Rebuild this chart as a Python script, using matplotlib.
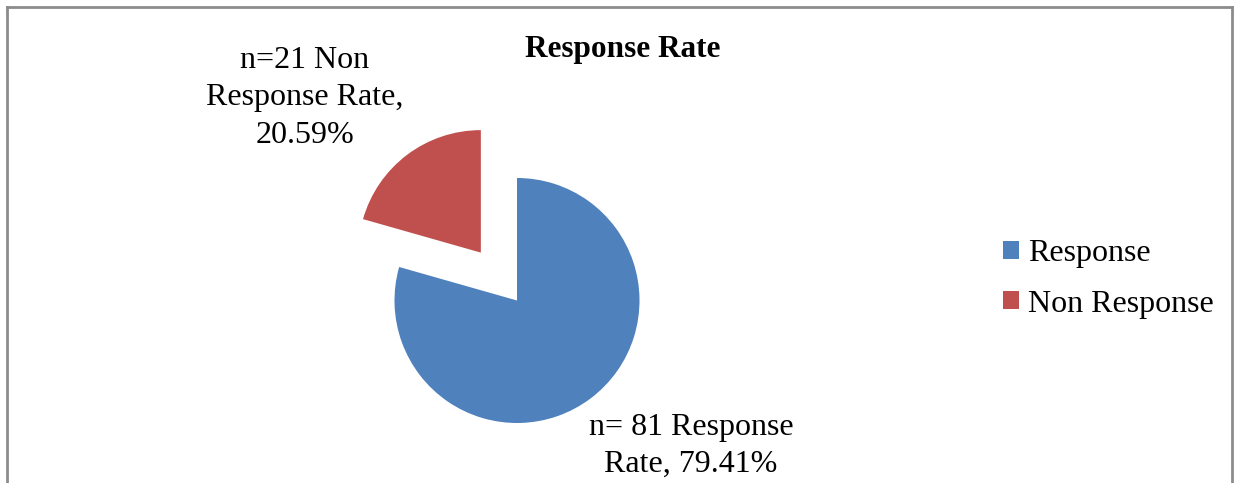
import matplotlib.pyplot as plt
from matplotlib.lines import Line2D

# data
categories = ['Response', 'Non Response']
shares = [79.41, 20.59]
counts = [81, 21]
colors = ['#4F81BD', '#C0504D']

plt.rcParams['font.family'] = ['Liberation Serif', 'DejaVu Serif']

W, H = 1234, 483
fig = plt.figure(figsize=(W / 100, H / 100), dpi=100)
ax = fig.add_axes([0, 0, 1, 1])

# pie in pixel-like data coords (y up); explode is in data units here
cx, cy, r = 517, H - 300.5, 122.5
wedges, _ = ax.pie(shares, colors=colors, startangle=90, counterclock=False,
                   explode=[0, 60], center=(cx, cy), radius=r,
                   wedgeprops=dict(linewidth=0))
ax.set_xlim(0, W)
ax.set_ylim(0, H)
ax.set_aspect('auto')
ax.axis('off')

ax.text(623, H - 50, 'Response Rate', ha='center', va='center',
        fontsize=22.5, fontweight='bold')

ax.text(305, H - 98, 'n=%d Non\nResponse Rate,\n%.2f%%' % (counts[1], shares[1]),
        ha='center', va='center', fontsize=23, linespacing=1.39)
ax.text(691, H - 446, 'n= %d Response\nRate, %.2f%%' % (counts[0], shares[0]),
        ha='center', va='center', fontsize=23, linespacing=1.39)

ax.legend(wedges, categories, loc='center left',
          bbox_to_anchor=(1003 / W, (H - 279) / H), frameon=False,
          fontsize=23, handlelength=0.5, handleheight=0.5, handletextpad=0.28,
          labelspacing=0.66, borderpad=0, borderaxespad=0)

# gray frame (bottom edge is cut off)
frame_kw = dict(color='#8c8c8c', linewidth=2, transform=fig.transFigure)
fig.add_artist(Line2D([7 / W, 7 / W], [0, 1 - 7 / H], **frame_kw))
fig.add_artist(Line2D([7 / W, 1232 / W], [1 - 7 / H, 1 - 7 / H], **frame_kw))
fig.add_artist(Line2D([1232 / W, 1232 / W], [0, 1 - 7 / H], **frame_kw))

fig.savefig('out.png', dpi=100)
